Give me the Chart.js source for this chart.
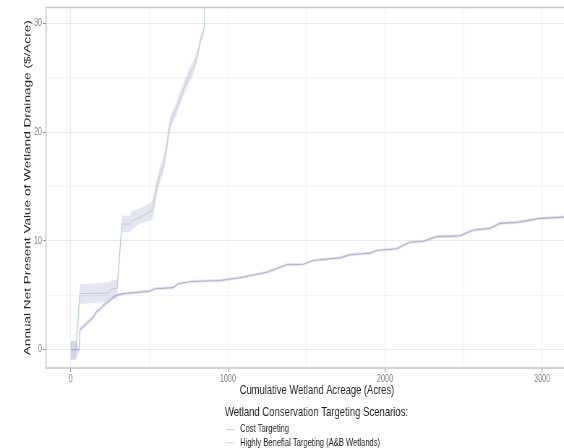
<!DOCTYPE html>
<html>
<head>
<meta charset="utf-8">
<script src="https://cdn.jsdelivr.net/npm/chart.js@4"></script>
<style>
  html, body { margin: 0; padding: 0; background: #fff; overflow: hidden; width: 564px; height: 448px; }
  /* the reference is squeezed horizontally, so draw wide and scale down */
  #wrap { width: 877px; height: 448px; transform: scaleX(0.7231); transform-origin: 0 0; }
</style>
</head>
<body>
<div id="wrap"><canvas id="chartjs" width="877" height="448"></canvas></div>
<script>
// axis ticks
const xMajor = [0, 1000, 2000, 3000];
const xMinor = [500, 1500, 2500];
const yMajor = [0, 10, 20, 30];
const yMinor = [5, 15, 25];

// Cost Targeting
const costAcres = [0, 30, 55, 59, 80, 112, 144, 165, 186, 207, 250, 271, 292, 335, 441, 504, 536, 653, 685, 770, 950, 1077, 1247, 1374, 1480, 1543, 1713, 1777, 1904, 1946, 2074, 2158, 2243, 2328, 2477, 2561, 2667, 2731, 2837, 2985, 3140];
const costValue = [0, 0, 0, 1.85, 2.1, 2.55, 3.0, 3.5, 3.7, 4.07, 4.53, 4.84, 4.99, 5.15, 5.29, 5.38, 5.6, 5.7, 6.06, 6.27, 6.36, 6.61, 7.12, 7.8, 7.85, 8.2, 8.44, 8.72, 8.87, 9.11, 9.27, 9.87, 9.96, 10.39, 10.46, 11.0, 11.15, 11.61, 11.7, 12.07, 12.18];
const costLow   = [-0.9, -0.9, -0.2, 1.6, 1.9, 2.35, 2.8, 3.3, 3.5, 3.87, 4.35, 4.68, 4.84, 5.0, 5.15, 5.24, 5.46, 5.56, 5.92, 6.13, 6.22, 6.47, 6.98, 7.66, 7.71, 8.06, 8.3, 8.58, 8.73, 8.97, 9.13, 9.73, 9.82, 10.25, 10.32, 10.86, 11.01, 11.47, 11.56, 11.93, 12.04];
const costHigh  = [0.8, 0.8, 0.2, 2.1, 2.3, 2.75, 3.2, 3.7, 3.9, 4.27, 4.71, 5.0, 5.14, 5.3, 5.43, 5.52, 5.74, 5.84, 6.2, 6.41, 6.5, 6.75, 7.26, 7.94, 7.99, 8.34, 8.58, 8.86, 9.01, 9.25, 9.41, 10.01, 10.1, 10.53, 10.6, 11.14, 11.29, 11.75, 11.84, 12.21, 12.32];

// Highly Benefial Targeting (A&B Wetlands)
const greenAcres = [0, 30, 34, 59, 239, 265, 295, 318, 327, 377, 390, 441, 515, 525, 536, 547, 568, 589, 611, 621, 636, 674, 706, 748, 780, 812, 823, 850, 850];
const greenValue = [0, 0, 0.2, 5.15, 5.2, 5.6, 5.6, 10.0, 11.55, 11.55, 11.86, 12.16, 12.77, 13.2, 14.0, 14.9, 16.1, 16.9, 18.57, 19.8, 21.0, 22.2, 23.5, 25.0, 25.9, 27.4, 28.3, 29.5, 33];
const greenLow   = [-0.9, -0.9, -0.9, 4.2, 4.4, 4.6, 4.6, 9.2, 10.8, 10.8, 11.1, 11.6, 11.9, 12.3, 13.2, 14.2, 15.4, 16.2, 17.9, 19.1, 20.4, 21.6, 22.9, 24.4, 25.3, 26.9, 27.9, 29.1];
const greenHigh  = [0.8, 0.8, 0.8, 6.0, 6.2, 6.4, 6.4, 10.8, 12.3, 12.3, 12.7, 13.0, 13.6, 14.0, 14.8, 15.6, 16.8, 17.6, 19.2, 20.5, 21.6, 22.8, 24.1, 25.6, 26.5, 27.9, 28.7, 29.9];

const toPoints = (xs, ys) => ys.map((y, i) => ({x: xs[i], y: y}));

const ribbonFill = 'rgba(170, 170, 215, 0.3)';
const font = '"Liberation Sans", Arial, sans-serif';

// panel border
const panelFrame = {
  id: 'panelFrame',
  afterDatasetsDraw(chart) {
    const {ctx, chartArea: a} = chart;
    ctx.save();
    ctx.strokeStyle = '#c4c4c4';
    ctx.lineWidth = 1.5;
    ctx.strokeRect(a.left, a.top, a.right - a.left, a.bottom - a.top);
    ctx.restore();
  }
};

// legend stacked under the axis title, like the ggplot one
const ggLegend = {
  id: 'ggLegend',
  afterDraw(chart) {
    const ctx = chart.ctx;
    ctx.save();
    ctx.textBaseline = 'middle';
    ctx.textAlign = 'left';
    ctx.fillStyle = '#222';
    ctx.font = '13.2px ' + font;
    ctx.fillText('Wetland Conservation Targeting Scenarios:', 311, 412);
    ctx.font = '10.5px ' + font;
    let y = 429.5;
    chart.data.datasets.forEach(ds => {
      if (!ds.legendColor) return;
      ctx.strokeStyle = ds.legendColor;
      ctx.lineWidth = 1.2;
      ctx.beginPath();
      ctx.moveTo(313, y);
      ctx.lineTo(324, y);
      ctx.stroke();
      ctx.fillStyle = '#222';
      ctx.fillText(ds.label, 332, y);
      y += 13.2;
    });
    ctx.restore();
  }
};

function gridColor(major) {
  return c => (c.tick && major.includes(c.tick.value)) ? '#ebebeb' : '#f4f4f4';
}
function tickColor(major) {
  return c => (c.tick && major.includes(c.tick.value)) ? '#8a8a8a' : 'rgba(0,0,0,0)';
}

new Chart(document.getElementById('chartjs').getContext('2d'), {
  type: 'line',
  data: {
    datasets: [
      {
        label: 'cost upper',
        data: toPoints(costAcres, costHigh),
        borderWidth: 0, pointRadius: 0, fill: '+1', backgroundColor: ribbonFill
      },
      {
        label: 'cost lower',
        data: toPoints(costAcres, costLow),
        borderWidth: 0, pointRadius: 0, fill: false
      },
      {
        label: 'green upper',
        data: toPoints(greenAcres, greenHigh),
        borderWidth: 0, pointRadius: 0, fill: '+1', backgroundColor: ribbonFill
      },
      {
        label: 'green lower',
        data: toPoints(greenAcres, greenLow),
        borderWidth: 0, pointRadius: 0, fill: false
      },
      {
        label: 'Cost Targeting',
        data: toPoints(costAcres, costValue),
        borderColor: '#b3b1d6', borderWidth: 1.1, pointRadius: 0, fill: false,
        legendColor: '#d2d2d2'
      },
      {
        label: 'Highly Benefial Targeting (A&B Wetlands)',
        data: toPoints(greenAcres, greenValue),
        borderColor: '#b3e6b3', borderWidth: 1, pointRadius: 0, fill: false,
        legendColor: '#c4efc4'
      }
    ]
  },
  options: {
    responsive: false,
    animation: false,
    layout: { padding: { left: 30, top: 6, right: 64, bottom: 50 } },
    plugins: {
      legend: { display: false },
      tooltip: { enabled: false }
    },
    scales: {
      x: {
        type: 'linear',
        min: -157,
        max: 3291,
        afterBuildTicks: s => { s.ticks = xMajor.concat(xMinor).sort((a, b) => a - b).map(v => ({value: v})); },
        afterFit: s => { s.height = 30; },
        border: { display: false },
        grid: { color: gridColor(xMajor), tickColor: tickColor(xMajor), tickLength: 4, lineWidth: 1 },
        ticks: {
          autoSkip: false, maxRotation: 0, padding: 1,
          color: '#808080',
          font: { family: font, size: 10 },
          callback: v => xMajor.includes(v) ? String(v) : ''
        },
        title: {
          display: true,
          text: 'Cumulative Wetland Acreage (Acres)',
          color: '#222',
          padding: 0,
          font: { family: font, size: 13 }
        }
      },
      y: {
        min: -1.69,
        max: 31.46,
        afterBuildTicks: s => { s.ticks = yMajor.concat(yMinor).sort((a, b) => a - b).map(v => ({value: v})); },
        afterFit: s => { s.width = 33.6; },
        border: { display: false },
        grid: { color: gridColor(yMajor), tickColor: tickColor(yMajor), tickLength: 4, lineWidth: 1 },
        ticks: {
          autoSkip: false, padding: 1.5,
          color: '#808080',
          font: { family: font, size: 10 },
          callback: v => yMajor.includes(v) ? String(v) : ''
        },
        title: {
          display: true,
          text: 'Annual Net Present Value of Wetland Drainage ($/Acre)',
          color: '#222',
          padding: 0,
          font: { family: font, size: 13.6 }
        }
      }
    }
  },
  plugins: [panelFrame, ggLegend]
});
</script>
</body>
</html>
